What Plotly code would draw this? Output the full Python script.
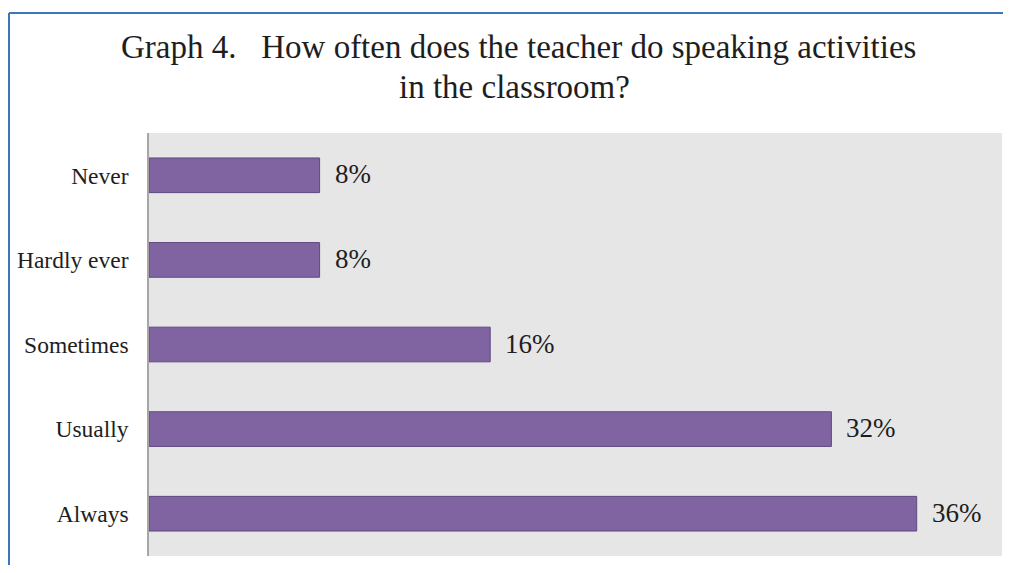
import plotly.graph_objects as go

categories = ["Never", "Hardly ever", "Sometimes", "Usually", "Always"]
values = [0.08, 0.08, 0.16, 0.32, 0.36]
labels = ["8%", "8%", "16%", "32%", "36%"]
title_lines = ["Graph 4.   How often does the teacher do speaking activities", "in the classroom?"]

OFF = 8  # page body margin
W, H = 1011 - 2 * OFF, 573 - 2 * OFF
L, T = 149 - OFF, 133 - OFF
pw, ph = 853, 423
R = W - L - pw
B = H - T - ph

def px(x):
    return (x - OFF - L) / pw

def py(y):
    return (T + ph - (y - OFF)) / ph

FONT = "Liberation Serif, Times New Roman, serif"

fig = go.Figure()
fig.add_trace(go.Bar(
    x=values, y=categories, orientation="h",
    marker=dict(color="#8064A2", line=dict(color="#5E4A80", width=1)),
    width=0.41, hoverinfo="skip",
))

for v, c, t in zip(values, categories, labels):
    fig.add_annotation(x=v, y=c, text=t, showarrow=False, xanchor="left",
                       xshift=13, yshift=1, font=dict(family=FONT, size=27, color="#1E1E1E"))

fig.add_annotation(xref="paper", yref="paper", x=px(518), y=py(47), text=title_lines[0],
                   showarrow=False, xanchor="center", yanchor="middle",
                   font=dict(family=FONT, size=33, color="#1E1E1E"))
fig.add_annotation(xref="paper", yref="paper", x=px(514), y=py(87), text=title_lines[1],
                   showarrow=False, xanchor="center", yanchor="middle",
                   font=dict(family=FONT, size=33, color="#1E1E1E"))

# blue frame
fig.add_shape(type="line", xref="paper", yref="paper", x0=px(9), x1=px(1011), y0=py(13), y1=py(13),
              line=dict(color="#3A78BE", width=2))
fig.add_shape(type="line", xref="paper", yref="paper", x0=px(9), x1=px(9), y0=py(13), y1=py(580),
              line=dict(color="#3A78BE", width=2))

fig.update_layout(
    width=W, height=H,
    margin=dict(l=L, r=R, t=T, b=B, pad=0),
    paper_bgcolor="white", plot_bgcolor="#E6E6E6",
    showlegend=False,
    bargap=0.59,
    xaxis=dict(range=[0, 0.4], showgrid=False, zeroline=False, showticklabels=False,
               ticks="", fixedrange=True),
    yaxis=dict(autorange="reversed", showgrid=False, zeroline=False, showline=True,
               linecolor="#A6A6A6", linewidth=1.5, ticks="", ticklabelstandoff=14,
               tickfont=dict(family=FONT, size=23.5, color="#1E1E1E"), fixedrange=True),
)

fig.write_html("out.html", config={"displayModeBar": False})
